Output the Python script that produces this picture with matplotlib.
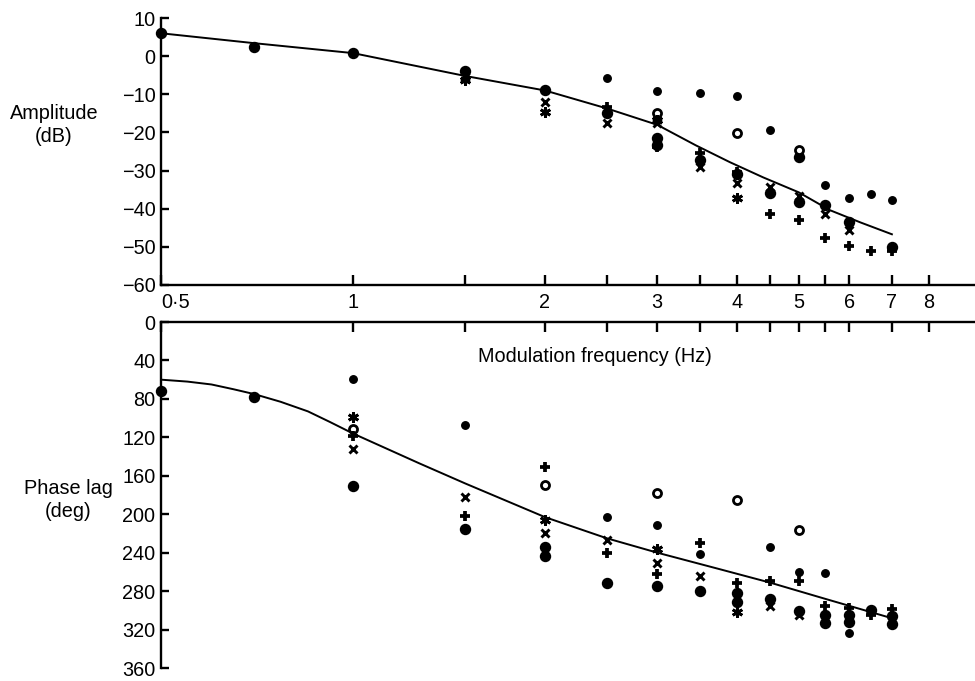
import numpy as np
import matplotlib
matplotlib.use("Agg")
import matplotlib.pyplot as plt
from matplotlib.ticker import FixedLocator, NullFormatter

# ---------------- data ----------------
xtick_vals = [0.5, 1, 2, 3, 4, 5, 6, 7, 8]
xtick_labels = ["0·5", "1", "2", "3", "4", "5", "6", "7", "8"]
xminor_vals = [1.5, 2.5, 3.5, 4.5, 5.5]

amp_ticks = [10, 0, -10, -20, -30, -40, -50, -60]
phase_ticks = [0, 40, 80, 120, 160, 200, 240, 280, 320, 360]

# fitted curves
amp_curve_f = [0.5, 0.7, 1, 1.5, 2, 2.5, 3, 3.45, 3.9, 4.4, 5, 5.6, 6.25, 7]
amp_curve_v = [6, 3.4, 0.8, -5.2, -9, -13.7, -18, -23.4, -27.8, -31.8, -35.7, -40.4, -43.6, -46.7]
phase_curve_f = [0.5, 0.55, 0.6, 0.65, 0.7, 0.77, 0.85, 0.92, 1, 1.27, 1.5, 2, 2.5, 3, 3.75, 4.5, 5.5, 6.9]
phase_curve_v = [60, 62, 65, 70, 75, 83, 93, 104, 116, 147, 168, 203, 225, 240, 257, 271, 288, 307]

# amplitude data (dB)
amp_big_f = [0.5, 0.7, 1, 1.5, 2, 2.5, 3, 3, 3.5, 4, 4.5, 5, 5, 5.5, 6, 7]
amp_big_v = [6, 2.4, 0.8, -4, -9, -15, -21.5, -23.4, -27.3, -31, -36, -26.5, -38.3, -39.1, -43.6, -50.1]
amp_small_f = [2.5, 3, 3.5, 4, 4.5, 5.5, 6, 6.5, 7]
amp_small_v = [-5.8, -9.2, -9.7, -10.5, -19.4, -33.9, -37.3, -36.2, -37.8]
amp_open_f = [3, 4, 5]
amp_open_v = [-15, -20.2, -24.5]
amp_x_f = [1.5, 2, 2.5, 3, 3.5, 4, 4.5, 5, 5.5, 6]
amp_x_v = [-5.5, -12, -17.6, -17.6, -29, -33.3, -34.4, -36.7, -41.5, -45.7]
amp_plus_f = [2.5, 3, 3.5, 4, 4.5, 5, 5.5, 6, 6.5, 7]
amp_plus_v = [-13.4, -23.9, -25.5, -30.4, -41.5, -43, -47.8, -49.9, -51.2, -51.2]
amp_star_f = [1.5, 2, 3, 4]
amp_star_v = [-6.3, -14.7, -16.8, -37.3]

# phase data (deg lag)
ph_big_f = [0.5, 0.7, 1, 1.5, 2, 2, 2.5, 3, 3.5, 4, 4, 4.5, 5, 5.5, 5.5, 6, 6, 6.5, 7, 7]
ph_big_v = [72, 78, 171, 215, 234, 243, 272, 275, 280, 282, 291, 288, 301, 305, 313, 305, 312, 300, 306, 314]
ph_small_f = [1, 1.5, 2.5, 3, 3.5, 4.5, 5, 5.5, 6]
ph_small_v = [59, 107, 203, 211, 241, 234, 260, 261, 324]
ph_open_f = [1, 2, 3, 4, 5]
ph_open_v = [111, 170, 178, 185, 216]
ph_x_f = [1, 1.5, 2, 2.5, 3, 3.5, 4.5, 5]
ph_x_v = [132, 182, 220, 227, 251, 264, 296, 305]
ph_plus_f = [1, 1.5, 2, 2.5, 3, 3.5, 4, 4.5, 5, 5.5, 6, 6.5, 7]
ph_plus_v = [119, 202, 151, 240, 262, 230, 272, 269, 269, 295, 298, 305, 299]
ph_star_f = [1, 2, 3, 4]
ph_star_v = [99, 206, 236, 302]

# ---------------- figure ----------------
plt.rcParams['font.family'] = ['Liberation Sans', 'DejaVu Sans']
FS = 14.3

fig = plt.figure(figsize=(9.75, 6.81), dpi=100)
W, H = 975.0, 681.0
ax1 = fig.add_axes([161 / W, 1 - 285 / H, 1 - 161 / W, (285 - 18) / H])
ax2 = fig.add_axes([161 / W, 1 - 668 / H, 1 - 161 / W, (668 - 322) / H])

XMIN, XMAX = 0.5, 9.45
LW = 1.7

def style_markers(ax, big_f, big_v, small_f, small_v, open_f, open_v,
                  x_f, x_v, plus_f, plus_v, star_f, star_v):
    kw = dict(linestyle='none', color='black', clip_on=False, zorder=3)
    ax.plot(big_f, big_v, marker='o', markersize=7.2, **kw)
    ax.plot(small_f, small_v, marker='o', markersize=5.4, **kw)
    ax.plot(open_f, open_v, marker='o', markersize=5.8, markerfacecolor='white',
            markeredgewidth=2.0, **kw)
    ax.plot(x_f, x_v, marker='x', markersize=5.4, markeredgewidth=2.1, **kw)
    ax.plot(plus_f, plus_v, marker='+', markersize=7.8, markeredgewidth=2.7, **kw)
    ax.plot(star_f, star_v, marker=(6, 2, 0), markersize=7.8, markeredgewidth=2.0, **kw)

for ax in (ax1, ax2):
    ax.set_xscale('log')
    ax.set_xlim(XMIN, XMAX)
    ax.xaxis.set_major_locator(FixedLocator(xtick_vals))
    ax.xaxis.set_minor_locator(FixedLocator(xminor_vals))
    ax.spines['right'].set_visible(False)
    for s in ax.spines.values():
        s.set_linewidth(LW)
    ax.patch.set_visible(False)

# top panel
ax1.plot(amp_curve_f, amp_curve_v, color='black', linewidth=1.4, zorder=2, clip_on=False)
style_markers(ax1, amp_big_f, amp_big_v, amp_small_f, amp_small_v, amp_open_f, amp_open_v,
              amp_x_f, amp_x_v, amp_plus_f, amp_plus_v, amp_star_f, amp_star_v)
ax1.set_ylim(-60, 10)
ax1.set_yticks(amp_ticks)
ax1.set_yticklabels([f"{t}".replace('-', '\u2212') for t in amp_ticks])
ax1.spines['top'].set_visible(False)
ax1.set_xticklabels(xtick_labels)
ax1.xaxis.set_minor_formatter(NullFormatter())
ax1.tick_params(axis='x', which='both', direction='in', length=7, width=LW,
                labelsize=FS, pad=6, bottom=True, top=False)
ax1.tick_params(axis='y', direction='in', length=6, width=LW, labelsize=FS, pad=4)

# bottom panel
ax2.plot(phase_curve_f, phase_curve_v, color='black', linewidth=1.4, zorder=2, clip_on=False)
style_markers(ax2, ph_big_f, ph_big_v, ph_small_f, ph_small_v, ph_open_f, ph_open_v,
              ph_x_f, ph_x_v, ph_plus_f, ph_plus_v, ph_star_f, ph_star_v)
ax2.set_ylim(360, 0)
ax2.set_yticks(phase_ticks)
ax2.spines['bottom'].set_visible(False)
ax2.xaxis.set_ticks_position('top')
ax2.xaxis.set_major_formatter(NullFormatter())
ax2.xaxis.set_minor_formatter(NullFormatter())
ax2.tick_params(axis='x', which='both', direction='in', length=7, width=LW,
                top=True, bottom=False, labeltop=False, labelbottom=False)
ax2.tick_params(axis='y', direction='in', length=6, width=LW, labelsize=FS, pad=4)

# axis labels as free text
fig.text(54 / W, 1 - 125 / H, "Amplitude\n(dB)", ha='center', va='center',
         fontsize=FS, linespacing=1.25)
fig.text(68 / W, 1 - 500 / H, "Phase lag\n(deg)", ha='center', va='center',
         fontsize=FS, linespacing=1.25)
fig.text(595 / W, 1 - 357 / H, "Modulation frequency (Hz)", ha='center', va='center',
         fontsize=FS)

fig.canvas.draw()
lbls = ax1.get_xticklabels()
lbls[0].set_horizontalalignment('left')

fig.savefig("out.png", dpi=100)
